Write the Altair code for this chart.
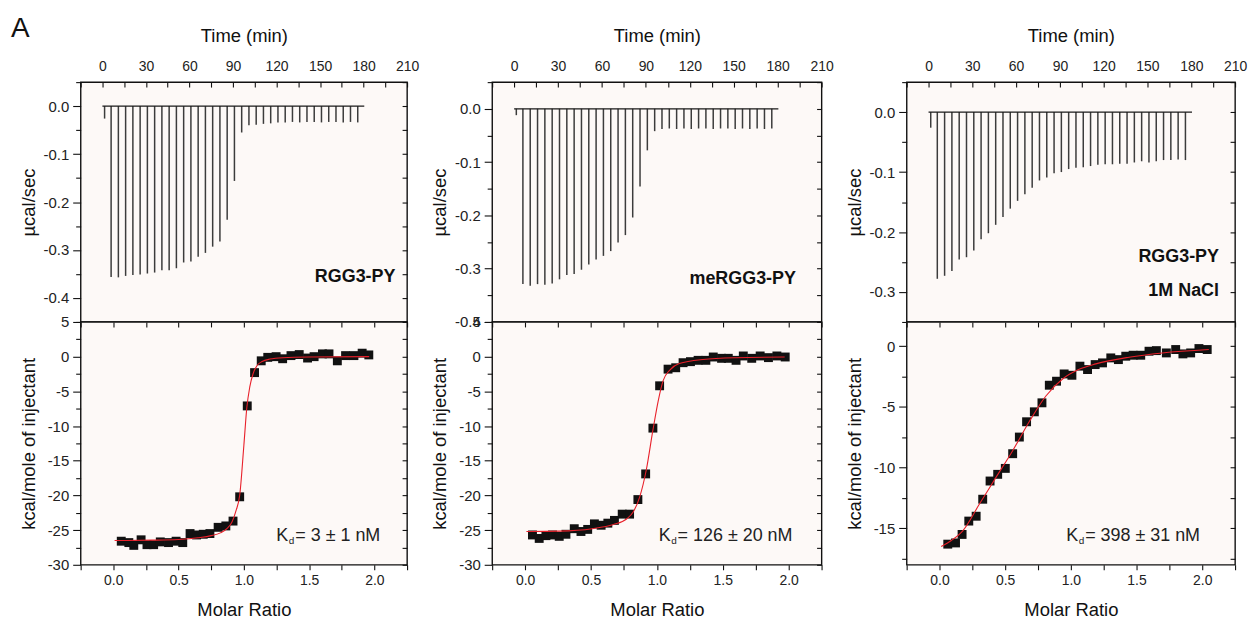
import altair as alt
import pandas as pd

FONT = "Liberation Sans"
MINUS = "\u2212"

# ---------------- data ----------------
TIMES = [1.5, 6, 11, 16, 21, 26, 31, 36, 41, 46, 51, 56, 61, 66, 71, 76, 81, 86,
         91, 96, 101, 106, 111, 116, 121, 126, 131, 136, 141, 146, 151, 156, 161,
         166, 171, 176]
RUN_START = 0.0
RUN_END = 180.5

PEAKS_1 = [-0.026, -0.356, -0.357, -0.354, -0.352, -0.351, -0.349, -0.347, -0.342,
           -0.342, -0.338, -0.326, -0.324, -0.314, -0.306, -0.293, -0.282, -0.237,
           -0.156, -0.055, -0.040, -0.039, -0.037, -0.036, -0.034, -0.034, -0.033,
           -0.034, -0.033, -0.033, -0.034, -0.033, -0.033, -0.034, -0.033, -0.034]
PEAKS_2 = [-0.012, -0.329, -0.332, -0.329, -0.330, -0.328, -0.320, -0.312, -0.310,
           -0.302, -0.292, -0.283, -0.276, -0.267, -0.251, -0.237, -0.204, -0.146,
           -0.078, -0.042, -0.038, -0.037, -0.038, -0.037, -0.038, -0.037, -0.037,
           -0.038, -0.037, -0.037, -0.038, -0.037, -0.038, -0.037, -0.038, -0.037]
PEAKS_3 = [-0.026, -0.278, -0.273, -0.265, -0.246, -0.242, -0.231, -0.212, -0.202,
           -0.188, -0.175, -0.161, -0.148, -0.137, -0.126, -0.114, -0.109, -0.102,
           -0.100, -0.095, -0.093, -0.092, -0.090, -0.088, -0.087, -0.087, -0.086,
           -0.086, -0.084, -0.082, -0.084, -0.082, -0.080, -0.080, -0.079, -0.080]

MR_1 = [0.061, 0.119, 0.157, 0.213, 0.258, 0.309, 0.36, 0.423, 0.481, 0.532, 0.588,
        0.638, 0.689, 0.74, 0.803, 0.862, 0.917, 0.968, 1.026, 1.082, 1.133, 1.183,
        1.247, 1.297, 1.361, 1.424, 1.488, 1.538, 1.602, 1.652, 1.716, 1.779, 1.843,
        1.906, 1.957]
HEAT_1 = [-26.6, -26.8, -27.2, -26.4, -27.1, -27.1, -26.7, -26.8, -26.6, -26.8, -25.5,
          -25.7, -25.6, -25.5, -24.6, -24.4, -23.7, -20.2, -7.1, -2.3, -0.6, -0.1,
          0.0, -0.3, 0.15, 0.3, -0.2, 0.0, 0.4, 0.4, -0.6, 0.15, 0.15, 0.5, 0.25]
FIT_X_1 = [0.01, 0.3, 0.5, 0.65, 0.75, 0.82, 0.87, 0.91, 0.94, 0.968, 1.0, 1.023,
           1.045, 1.07, 1.1, 1.14, 1.2, 1.3, 1.5, 1.96]
FIT_Y_1 = [-26.5, -26.45, -26.35, -26.1, -25.8, -25.4, -24.8, -23.8, -22.2, -20.0,
           -12.8, -7.3, -4.4, -2.5, -1.3, -0.7, -0.35, -0.15, -0.05, 0.0]

MR_2 = [0.056, 0.107, 0.158, 0.208, 0.259, 0.310, 0.373, 0.424, 0.475, 0.526, 0.577,
        0.628, 0.678, 0.737, 0.793, 0.856, 0.915, 0.970, 1.021, 1.085, 1.143, 1.199,
        1.255, 1.313, 1.372, 1.428, 1.491, 1.542, 1.601, 1.656, 1.72, 1.784, 1.847,
        1.911, 1.974]
HEAT_2 = [-25.7, -26.2, -25.8, -25.7, -25.9, -25.6, -24.8, -25.2, -24.9, -24.1, -24.3,
          -24.0, -23.6, -22.7, -22.7, -20.6, -16.9, -10.3, -4.2, -1.8, -1.6, -0.87,
          -0.72, -0.53, -0.53, -0.05, -0.24, -0.24, -0.53, 0.1, -0.24, 0.1, -0.14,
          0.1, -0.05]
FIT_X_2 = [0.01, 0.26, 0.51, 0.67, 0.77, 0.82, 0.87, 0.92, 0.97, 1.01, 1.047, 1.1,
           1.17, 1.35, 1.6, 1.97]
FIT_Y_2 = [-25.2, -25.15, -24.8, -24.2, -23.4, -22.4, -20.2, -16.3, -10.6, -6.4,
           -3.5, -1.9, -1.0, -0.4, -0.15, -0.05]

MR_3 = [0.063, 0.122, 0.172, 0.223, 0.279, 0.329, 0.385, 0.443, 0.501, 0.557, 0.608,
        0.663, 0.722, 0.780, 0.836, 0.891, 0.949, 1.008, 1.069, 1.127, 1.185, 1.241,
        1.304, 1.362, 1.418, 1.474, 1.532, 1.595, 1.651, 1.727, 1.798, 1.853, 1.912,
        1.975, 2.038]
HEAT_3 = [-16.3, -16.2, -15.5, -14.4, -14.0, -12.6, -11.1, -10.55, -10.06, -8.85,
          -7.48, -6.22, -5.40, -4.66, -3.21, -2.88, -2.28, -2.39, -1.64, -1.92, -1.51,
          -1.37, -0.96, -1.10, -0.82, -0.74, -0.74, -0.41, -0.36, -0.55, -0.27, -0.63,
          -0.55, -0.19, -0.27]
FIT_X_3 = [0.013, 0.09, 0.177, 0.304, 0.43, 0.557, 0.684, 0.81, 0.937, 1.063, 1.19,
           1.443, 1.696, 2.05]
FIT_Y_3 = [-16.5, -16.0, -15.2, -13.0, -10.8, -8.6, -6.2, -4.1, -2.7, -1.9, -1.45,
           -0.9, -0.55, -0.27]

# tick values
TIME_TICKS = [-15, 0, 15, 30, 45, 60, 75, 90, 105, 120, 135, 150, 165, 180, 195, 210]
MR_TICKS = [-0.25, 0.0, 0.25, 0.5, 0.75, 1.0, 1.25, 1.5, 1.75, 2.0, 2.25]
TOP_TICKS_1 = [0.05, 0.0, -0.05, -0.1, -0.15, -0.2, -0.25, -0.3, -0.35, -0.4, -0.45]
TOP_TICKS_2 = [0.05, 0.0, -0.05, -0.1, -0.15, -0.2, -0.25, -0.3, -0.35, -0.4]
TOP_TICKS_3 = [0.05, 0.0, -0.05, -0.1, -0.15, -0.2, -0.25, -0.3, -0.35]
BOT_TICKS_12 = [5, 2.5, 0, -2.5, -5, -7.5, -10, -12.5, -15, -17.5, -20, -22.5, -25,
                -27.5, -30]
BOT_TICKS_3 = [0, -2.5, -5, -7.5, -10, -12.5, -15, -17.5]

# annotations (data coordinates)
LABELS_TOP = [
    [{"t": 202, "y": -0.356, "txt": "RGG3-PY"}],
    [{"t": 192.5, "y": -0.319, "txt": "meRGG3-PY"}],
    [{"t": 199, "y": -0.241, "txt": "RGG3-PY"}, {"t": 199, "y": -0.298, "txt": "1M NaCl"}],
]
KD = [
    {"x": 1.249, "y": -25.9, "rest": "= 3 \u00b1 1 nM"},
    {"x": 1.014, "y": -25.9, "rest": "\u00a0= 126 \u00b1 20 nM"},
    {"x": 0.965, "y": -15.6, "rest": "\u00a0= 398 \u00b1 31 nM"},
]
PANEL_LETTER = "A"

WIDTHS = [328, 331, 330]
TOP_H = 241
BOT_H = 244

TIME_DOM = [-15, 210]
MR_DOM = [-0.25, 2.25]
TOP_DOMS = [[-0.45, 0.05], [-0.4, 0.05], [-0.35, 0.05]]
BOT_DOMS = [[-30, 5], [-30, 5], [-18, 2]]


def fixlab(test):
    return f"({test}) ? replace(datum.label, '{MINUS}', '-') : ''"


T_TEST_TIME = "datum.value % 30 === 0"
T_TEST_TENTH = "abs(datum.value * 10 - round(datum.value * 10)) < 0.001"
T_TEST_HALF = "abs(datum.value * 2 - round(datum.value * 2)) < 0.001"
T_TEST_FIVE = "datum.value % 5 === 0"


def left_axis(title, values, test, fmt):
    return alt.Axis(orient="left", title=title, values=values, format=fmt,
                    labelExpr=fixlab(test), labelFontSize=15,
                    tickSize={"condition": {"test": test, "value": 8}, "value": 5},
                    labelPadding=4, domain=False, grid=False, labelOverlap=False,
                    titleX=-52.5, titleBaseline="middle")


def inner_axis(orient, values):
    return alt.Axis(orient=orient, values=values, labels=False, title=None,
                    tickSize=5, offset=-5, domain=False, grid=False)


def top_panel(i, peaks, yticks):
    xs = alt.Scale(domain=TIME_DOM, nice=False, zero=False)
    ys = alt.Scale(domain=TOP_DOMS[i], nice=False, zero=False)
    df = pd.DataFrame({"t": TIMES, "p": peaks, "z": [0.0] * len(TIMES)})
    time_axis = alt.Axis(orient="top", title="Time (min)", values=TIME_TICKS,
                         format="d", labelExpr=fixlab(T_TEST_TIME), tickSize=5,
                         offset=-5, labelPadding=9, domain=False, grid=False,
                         labelFlush=False, labelOverlap=False, titleY=-52,
                         titleBaseline="middle")
    spikes = alt.Chart(df).mark_rule(color="#3c3c3c", strokeWidth=1.5).encode(
        x=alt.X("t:Q", scale=xs, axis=time_axis),
        y=alt.Y("p:Q", scale=ys, axis=left_axis("\u00b5cal/sec", yticks, T_TEST_TENTH, ".1f")),
        y2="z:Q",
    )
    bdf = pd.DataFrame({"t0": [RUN_START], "t1": [RUN_END], "z": [0.0]})
    base = alt.Chart(bdf).mark_rule(color="#1a1a1a", strokeWidth=1.3).encode(
        x=alt.X("t0:Q", scale=xs, axis=None),
        x2="t1:Q",
        y=alt.Y("z:Q", scale=ys, axis=inner_axis("right", yticks)),
    )
    ldf = pd.DataFrame(LABELS_TOP[i])
    lab = alt.Chart(ldf).mark_text(align="right", baseline="middle", fontSize=18,
                                   fontWeight="bold", font=FONT, color="#111").encode(
        x=alt.X("t:Q", scale=xs, axis=None),
        y=alt.Y("y:Q", scale=ys, axis=None),
        text="txt:N",
    )
    layers = [spikes, base, lab]
    if i == 0:
        letter = alt.Chart(pd.DataFrame({"txt": [PANEL_LETTER]})).mark_text(
            align="left", baseline="alphabetic", fontSize=28, font=FONT, color="#111"
        ).encode(x=alt.value(-70), y=alt.value(-45), text="txt:N")
        layers.append(letter)
    return alt.layer(*layers).resolve_axis(x="independent", y="independent").properties(
        width=WIDTHS[i], height=TOP_H)


def bottom_panel(i, mr, heat, fx, fy, yticks):
    xs = alt.Scale(domain=MR_DOM, nice=False, zero=False)
    ys = alt.Scale(domain=BOT_DOMS[i], nice=False, zero=False)
    pdf = pd.DataFrame({"mr": mr, "h": heat})
    fdf = pd.DataFrame({"mr": fx, "h": fy})
    mr_axis = alt.Axis(orient="bottom", title="Molar Ratio", values=MR_TICKS,
                       format=".1f", labelExpr=fixlab(T_TEST_HALF), tickSize=5,
                       labelPadding=4, domain=False, grid=False, labelFlush=False,
                       labelOverlap=False, titleY=45, titleBaseline="middle")
    pts = alt.Chart(pdf).mark_square(size=80, color="#111", opacity=1).encode(
        x=alt.X("mr:Q", scale=xs, axis=mr_axis),
        y=alt.Y("h:Q", scale=ys, axis=left_axis("kcal/mole of injectant", yticks, T_TEST_FIVE, "d")),
    )
    fit = alt.Chart(fdf).mark_line(color="#e8202a", strokeWidth=1.1, interpolate="monotone").encode(
        x=alt.X("mr:Q", scale=xs, axis=inner_axis("top", MR_TICKS)),
        y=alt.Y("h:Q", scale=ys, axis=inner_axis("right", yticks)),
    )
    kdf = pd.DataFrame([KD[i]])
    kbase = alt.Chart(kdf).encode(
        x=alt.X("x:Q", scale=xs, axis=None),
        y=alt.Y("y:Q", scale=ys, axis=None),
    )
    k1 = kbase.mark_text(align="left", baseline="middle", fontSize=18, font=FONT,
                         color="#222", text="K")
    k2 = kbase.mark_text(align="left", baseline="middle", fontSize=10, font=FONT,
                         color="#222", text="d", dx=12.5, dy=5)
    k3 = kbase.mark_text(align="left", baseline="middle", fontSize=18, font=FONT,
                         color="#222", dx=19).encode(text="rest:N")
    return alt.layer(pts, fit, k1, k2, k3).resolve_axis(x="independent", y="independent").properties(
        width=WIDTHS[i], height=BOT_H)


tops = [
    top_panel(0, PEAKS_1, TOP_TICKS_1),
    top_panel(1, PEAKS_2, TOP_TICKS_2),
    top_panel(2, PEAKS_3, TOP_TICKS_3),
]
bots = [
    bottom_panel(0, MR_1, HEAT_1, FIT_X_1, FIT_Y_1, BOT_TICKS_12),
    bottom_panel(1, MR_2, HEAT_2, FIT_X_2, FIT_Y_2, BOT_TICKS_12),
    bottom_panel(2, MR_3, HEAT_3, FIT_X_3, FIT_Y_3, BOT_TICKS_3),
]

chart = alt.concat(
    *tops, *bots, columns=3,
    spacing={"row": 0, "column": 85.5},
    bounds="flush", align="each",
).properties(
    padding={"left": 2, "top": 5, "right": 0, "bottom": 0},
).configure_view(
    stroke="#111", strokeWidth=1.4, fill="#fdf9f7"
).configure_axis(
    labelFont=FONT, labelFontSize=14, labelColor="#222",
    titleFont=FONT, titleFontSize=18.5, titleFontWeight="normal", titleColor="#111",
    tickColor="#111", tickWidth=1.1,
)

chart.save("out.html", embed_options={"renderer": "svg", "actions": False})
